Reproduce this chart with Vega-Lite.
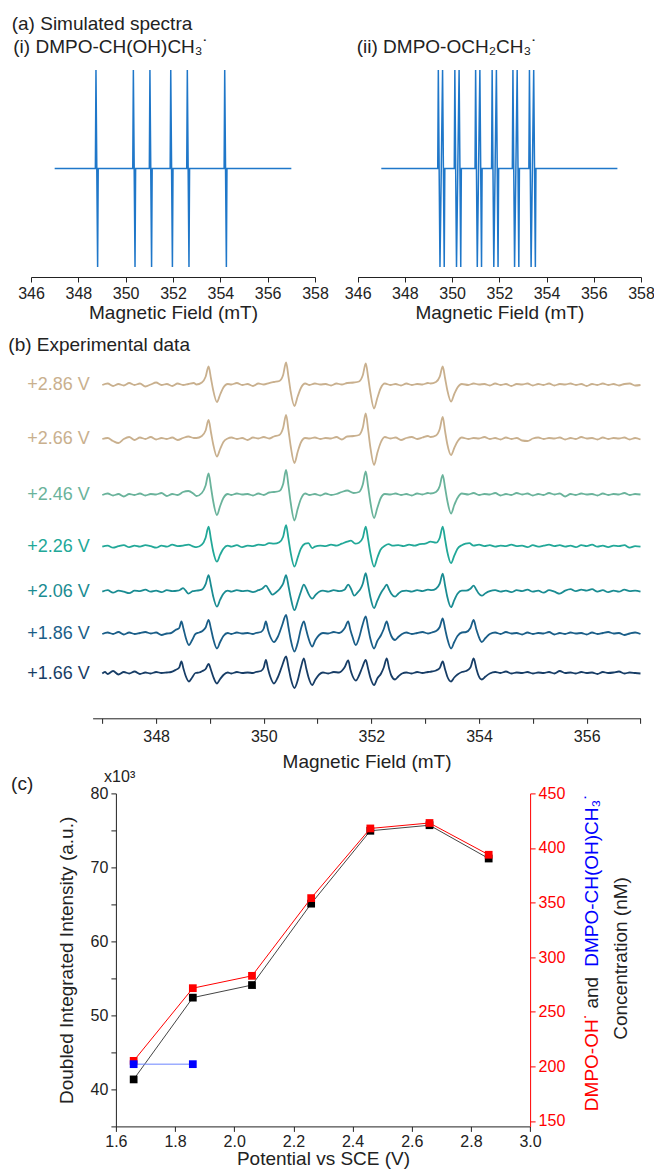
{
"$schema":"https://vega.github.io/schema/vega-lite/v6.json",
"padding":0,
"config":{"font":"Liberation Sans","view":{"stroke":null},
"axis":{"grid":false,"domainColor":"#222","tickColor":"#222","labelColor":"#222","titleColor":"#222","labelFontSize":16,"titleFontSize":19,"titleFontWeight":"normal","tickSize":5,"labelPadding":3,"labelFlush":false,"labelOverlap":false},
"text":{"font":"Liberation Sans"}},
"datasets":{
"sim1":[{"x":347,"y":0},{"x":348.72,"y":0},{"x":348.745,"y":1},{"x":348.815,"y":-1},{"x":348.84,"y":0},{"x":350.3,"y":0},{"x":350.325,"y":1},{"x":350.395,"y":-1},{"x":350.42,"y":0},{"x":351,"y":0},{"x":351.025,"y":1},{"x":351.095,"y":-1},{"x":351.12,"y":0},{"x":351.88,"y":0},{"x":351.905,"y":1},{"x":351.975,"y":-1},{"x":352,"y":0},{"x":352.58,"y":0},{"x":352.605,"y":1},{"x":352.675,"y":-1},{"x":352.7,"y":0},{"x":354.16,"y":0},{"x":354.185,"y":1},{"x":354.255,"y":-1},{"x":354.28,"y":0},{"x":357,"y":0}],
"sim2":[{"x":347,"y":0},{"x":349.39,"y":0},{"x":349.415,"y":1},{"x":349.485,"y":-1},{"x":349.54,"y":0},{"x":349.595,"y":1},{"x":349.665,"y":-1},{"x":349.69,"y":0},{"x":350.09,"y":0},{"x":350.115,"y":1},{"x":350.185,"y":-1},{"x":350.24,"y":0},{"x":350.295,"y":1},{"x":350.365,"y":-1},{"x":350.39,"y":0},{"x":350.97,"y":0},{"x":350.995,"y":1},{"x":351.065,"y":-1},{"x":351.12,"y":0},{"x":351.175,"y":1},{"x":351.245,"y":-1},{"x":351.27,"y":0},{"x":351.67,"y":0},{"x":351.695,"y":1},{"x":351.765,"y":-1},{"x":351.82,"y":0},{"x":351.875,"y":1},{"x":351.945,"y":-1},{"x":351.97,"y":0},{"x":352.55,"y":0},{"x":352.575,"y":1},{"x":352.645,"y":-1},{"x":352.7,"y":0},{"x":352.755,"y":1},{"x":352.825,"y":-1},{"x":352.85,"y":0},{"x":353.25,"y":0},{"x":353.275,"y":1},{"x":353.345,"y":-1},{"x":353.4,"y":0},{"x":353.455,"y":1},{"x":353.525,"y":-1},{"x":353.55,"y":0},{"x":357,"y":0}],
"t286":[{"x":347,"y":0},{"x":347.1,"y":1.5},{"x":347.2,"y":-1},{"x":347.3,"y":1},{"x":347.4,"y":-0.5},{"x":347.5,"y":2},{"x":347.6,"y":0},{"x":347.7,"y":1.5},{"x":347.8,"y":-1.5},{"x":347.9,"y":0.5},{"x":348,"y":2.5},{"x":348.1,"y":0},{"x":348.2,"y":1},{"x":348.3,"y":-1},{"x":348.4,"y":1.5},{"x":348.5,"y":0},{"x":348.6,"y":1},{"x":348.7,"y":2},{"x":348.75,"y":0.5},{"x":348.85,"y":2.5},{"x":348.92,"y":8.3},{"x":348.975,"y":18.5},{"x":349.02,"y":6.5},{"x":349.06,"y":-5},{"x":349.13,"y":-17},{"x":349.19,"y":-9.5},{"x":349.25,"y":-2.5},{"x":349.33,"y":1},{"x":349.4,"y":0.5},{"x":349.5,"y":2},{"x":349.6,"y":0},{"x":349.7,"y":1},{"x":349.8,"y":-1},{"x":349.9,"y":1.5},{"x":350,"y":0.5},{"x":350.1,"y":2},{"x":350.19,"y":3},{"x":350.29,"y":4},{"x":350.36,"y":10},{"x":350.415,"y":22.5},{"x":350.46,"y":8},{"x":350.5,"y":-6.5},{"x":350.57,"y":-21},{"x":350.63,"y":-11.5},{"x":350.69,"y":-3},{"x":350.77,"y":1.5},{"x":350.85,"y":0},{"x":350.95,"y":1.5},{"x":351.05,"y":0.5},{"x":351.15,"y":1},{"x":351.25,"y":-0.5},{"x":351.35,"y":1.5},{"x":351.45,"y":0.5},{"x":351.55,"y":2},{"x":351.67,"y":2.5},{"x":351.77,"y":3.5},{"x":351.84,"y":9.7},{"x":351.895,"y":21.5},{"x":351.94,"y":7.5},{"x":351.98,"y":-7},{"x":352.05,"y":-23.5},{"x":352.11,"y":-13},{"x":352.17,"y":-3.5},{"x":352.25,"y":1.5},{"x":352.35,"y":0},{"x":352.45,"y":1},{"x":352.55,"y":-0.5},{"x":352.65,"y":1.5},{"x":352.75,"y":0},{"x":352.85,"y":1},{"x":352.95,"y":0.5},{"x":353.05,"y":2},{"x":353.1,"y":1.5},{"x":353.2,"y":3},{"x":353.27,"y":8.3},{"x":353.325,"y":18.5},{"x":353.37,"y":6.5},{"x":353.41,"y":-5},{"x":353.48,"y":-16.5},{"x":353.54,"y":-9},{"x":353.6,"y":-2.5},{"x":353.68,"y":1},{"x":353.8,"y":0},{"x":353.9,"y":1.5},{"x":354,"y":0.5},{"x":354.1,"y":1},{"x":354.2,"y":-0.5},{"x":354.3,"y":1.5},{"x":354.4,"y":0},{"x":354.5,"y":1},{"x":354.6,"y":-1},{"x":354.7,"y":1},{"x":354.8,"y":0.5},{"x":354.9,"y":1.5},{"x":355,"y":-0.5},{"x":355.1,"y":1},{"x":355.2,"y":0},{"x":355.3,"y":1.5},{"x":355.4,"y":-0.5},{"x":355.5,"y":1},{"x":355.6,"y":0.5},{"x":355.7,"y":1.5},{"x":355.8,"y":0},{"x":355.9,"y":1},{"x":356,"y":-1},{"x":356.1,"y":1},{"x":356.2,"y":0},{"x":356.3,"y":1.5},{"x":356.4,"y":0},{"x":356.5,"y":1},{"x":356.6,"y":-0.5},{"x":356.7,"y":1},{"x":356.8,"y":1.5},{"x":356.9,"y":-0.5},{"x":357,"y":0}],
"t266":[{"x":347,"y":0},{"x":347.1,"y":1},{"x":347.2,"y":-2},{"x":347.3,"y":-4},{"x":347.4,"y":0},{"x":347.5,"y":2},{"x":347.6,"y":-1},{"x":347.7,"y":1.5},{"x":347.8,"y":0},{"x":347.9,"y":2},{"x":348,"y":-0.5},{"x":348.1,"y":1},{"x":348.2,"y":0},{"x":348.3,"y":1.5},{"x":348.4,"y":-1},{"x":348.5,"y":1},{"x":348.6,"y":2.5},{"x":348.7,"y":1},{"x":348.75,"y":1},{"x":348.85,"y":3},{"x":348.92,"y":8.5},{"x":348.975,"y":19},{"x":349.02,"y":6.5},{"x":349.06,"y":-5},{"x":349.13,"y":-17.5},{"x":349.19,"y":-10},{"x":349.25,"y":-3},{"x":349.33,"y":0.5},{"x":349.4,"y":1.5},{"x":349.5,"y":0},{"x":349.6,"y":1},{"x":349.7,"y":-1},{"x":349.8,"y":1.5},{"x":349.9,"y":0.5},{"x":350,"y":2},{"x":350.1,"y":0.5},{"x":350.19,"y":2.5},{"x":350.29,"y":4},{"x":350.36,"y":11},{"x":350.415,"y":24},{"x":350.46,"y":8.5},{"x":350.5,"y":-7},{"x":350.57,"y":-24},{"x":350.63,"y":-13},{"x":350.69,"y":-3.5},{"x":350.77,"y":1},{"x":350.85,"y":0.5},{"x":350.95,"y":1.5},{"x":351.05,"y":0},{"x":351.15,"y":1},{"x":351.25,"y":0.5},{"x":351.35,"y":2},{"x":351.45,"y":-0.5},{"x":351.55,"y":2.5},{"x":351.67,"y":3},{"x":351.77,"y":4},{"x":351.84,"y":11.5},{"x":351.895,"y":25.5},{"x":351.94,"y":9},{"x":351.98,"y":-8},{"x":352.05,"y":-26},{"x":352.11,"y":-14},{"x":352.17,"y":-4},{"x":352.25,"y":2},{"x":352.35,"y":0.5},{"x":352.45,"y":1.5},{"x":352.55,"y":-1},{"x":352.65,"y":1},{"x":352.75,"y":2},{"x":352.85,"y":0},{"x":352.95,"y":1.5},{"x":353.05,"y":3},{"x":353.1,"y":2},{"x":353.2,"y":3.5},{"x":353.27,"y":10},{"x":353.325,"y":22},{"x":353.37,"y":7.5},{"x":353.41,"y":-5},{"x":353.48,"y":-16},{"x":353.54,"y":-9},{"x":353.6,"y":-2.5},{"x":353.68,"y":1.5},{"x":353.8,"y":0},{"x":353.9,"y":1},{"x":354,"y":0.5},{"x":354.1,"y":2},{"x":354.2,"y":0},{"x":354.3,"y":1},{"x":354.4,"y":-0.5},{"x":354.5,"y":1.5},{"x":354.6,"y":0},{"x":354.7,"y":1},{"x":354.8,"y":-1.5},{"x":354.9,"y":-2},{"x":355,"y":0.5},{"x":355.1,"y":1.5},{"x":355.2,"y":0},{"x":355.3,"y":1},{"x":355.4,"y":0.5},{"x":355.5,"y":1.5},{"x":355.6,"y":-0.5},{"x":355.7,"y":1},{"x":355.8,"y":0},{"x":355.9,"y":2},{"x":356,"y":0.5},{"x":356.1,"y":1},{"x":356.2,"y":-0.5},{"x":356.3,"y":1.5},{"x":356.4,"y":0},{"x":356.5,"y":1},{"x":356.6,"y":0.5},{"x":356.7,"y":1.5},{"x":356.8,"y":-0.5},{"x":356.9,"y":1},{"x":357,"y":-0.5}],
"t246":[{"x":347,"y":0},{"x":347.1,"y":1.5},{"x":347.2,"y":-0.5},{"x":347.3,"y":1},{"x":347.4,"y":-1.5},{"x":347.5,"y":1},{"x":347.6,"y":0},{"x":347.7,"y":1.5},{"x":347.8,"y":-0.5},{"x":347.9,"y":1},{"x":348,"y":0.5},{"x":348.1,"y":2},{"x":348.2,"y":-1},{"x":348.3,"y":1},{"x":348.4,"y":0},{"x":348.5,"y":3},{"x":348.6,"y":4},{"x":348.7,"y":1},{"x":348.75,"y":-1},{"x":348.85,"y":2},{"x":348.92,"y":9.5},{"x":348.975,"y":21.5},{"x":349.02,"y":7.5},{"x":349.06,"y":-6},{"x":349.13,"y":-20},{"x":349.19,"y":-11},{"x":349.25,"y":-3},{"x":349.33,"y":1},{"x":349.4,"y":0},{"x":349.5,"y":1.5},{"x":349.6,"y":0.5},{"x":349.7,"y":1},{"x":349.8,"y":-0.5},{"x":349.9,"y":1.5},{"x":350,"y":0},{"x":350.1,"y":2.5},{"x":350.19,"y":3},{"x":350.29,"y":4},{"x":350.36,"y":11},{"x":350.415,"y":25},{"x":350.46,"y":9},{"x":350.5,"y":-7.5},{"x":350.57,"y":-25.5},{"x":350.63,"y":-14},{"x":350.69,"y":-4},{"x":350.77,"y":1.5},{"x":350.85,"y":0},{"x":350.95,"y":1},{"x":351.05,"y":-0.5},{"x":351.15,"y":1.5},{"x":351.25,"y":0},{"x":351.35,"y":1},{"x":351.45,"y":3},{"x":351.55,"y":4.5},{"x":351.67,"y":2},{"x":351.77,"y":3},{"x":351.84,"y":10.5},{"x":351.895,"y":23.5},{"x":351.94,"y":8},{"x":351.98,"y":-7},{"x":352.05,"y":-23},{"x":352.11,"y":-13},{"x":352.17,"y":-3.5},{"x":352.25,"y":1},{"x":352.35,"y":0.5},{"x":352.45,"y":1.5},{"x":352.55,"y":0},{"x":352.65,"y":1},{"x":352.75,"y":-0.5},{"x":352.85,"y":1.5},{"x":352.95,"y":0.5},{"x":353.05,"y":2},{"x":353.1,"y":1.5},{"x":353.2,"y":3},{"x":353.27,"y":9},{"x":353.325,"y":20},{"x":353.37,"y":7},{"x":353.41,"y":-5.5},{"x":353.48,"y":-18.5},{"x":353.54,"y":-10},{"x":353.6,"y":-3},{"x":353.68,"y":1.5},{"x":353.8,"y":0.5},{"x":353.9,"y":2},{"x":354,"y":0},{"x":354.1,"y":1},{"x":354.2,"y":0.5},{"x":354.3,"y":2},{"x":354.4,"y":-0.5},{"x":354.5,"y":1},{"x":354.6,"y":0},{"x":354.7,"y":2},{"x":354.8,"y":0.5},{"x":354.9,"y":1.5},{"x":355,"y":-0.5},{"x":355.1,"y":1},{"x":355.2,"y":0},{"x":355.3,"y":2},{"x":355.4,"y":0.5},{"x":355.5,"y":1.5},{"x":355.6,"y":-1.5},{"x":355.7,"y":1},{"x":355.8,"y":0},{"x":355.9,"y":1.5},{"x":356,"y":0.5},{"x":356.1,"y":1},{"x":356.2,"y":-0.5},{"x":356.3,"y":1.5},{"x":356.4,"y":0},{"x":356.5,"y":1},{"x":356.6,"y":0.5},{"x":356.7,"y":2},{"x":356.8,"y":0},{"x":356.9,"y":1},{"x":357,"y":0.5}],
"t226":[{"x":347,"y":0},{"x":347.1,"y":1},{"x":347.2,"y":-1},{"x":347.3,"y":0.5},{"x":347.4,"y":1.5},{"x":347.5,"y":-0.5},{"x":347.6,"y":1},{"x":347.7,"y":0},{"x":347.8,"y":1.5},{"x":347.9,"y":0.5},{"x":348,"y":-1},{"x":348.1,"y":1},{"x":348.2,"y":0},{"x":348.3,"y":2},{"x":348.4,"y":0.5},{"x":348.5,"y":1},{"x":348.6,"y":2},{"x":348.7,"y":0},{"x":348.75,"y":-0.5},{"x":348.85,"y":2},{"x":348.92,"y":9},{"x":348.975,"y":20},{"x":349.02,"y":7},{"x":349.06,"y":-4.5},{"x":349.13,"y":-15},{"x":349.19,"y":-8},{"x":349.25,"y":-2},{"x":349.33,"y":1},{"x":349.4,"y":0},{"x":349.5,"y":1.5},{"x":349.6,"y":-0.5},{"x":349.7,"y":1},{"x":349.8,"y":0.5},{"x":349.9,"y":2},{"x":350,"y":1.5},{"x":350.1,"y":3.5},{"x":350.19,"y":3},{"x":350.29,"y":4.5},{"x":350.36,"y":10},{"x":350.415,"y":21.5},{"x":350.46,"y":7.5},{"x":350.5,"y":-6},{"x":350.57,"y":-20},{"x":350.63,"y":-11},{"x":350.69,"y":-2},{"x":350.77,"y":3},{"x":350.83,"y":3.5},{"x":350.9,"y":-1.5},{"x":350.95,"y":0},{"x":351.05,"y":1},{"x":351.15,"y":0.5},{"x":351.25,"y":2},{"x":351.35,"y":1},{"x":351.45,"y":3},{"x":351.55,"y":5},{"x":351.62,"y":6},{"x":351.7,"y":3},{"x":351.77,"y":4},{"x":351.84,"y":9},{"x":351.895,"y":20},{"x":351.94,"y":7},{"x":351.98,"y":-6},{"x":352.05,"y":-20},{"x":352.11,"y":-11},{"x":352.17,"y":-3},{"x":352.25,"y":1},{"x":352.32,"y":2.5},{"x":352.4,"y":1},{"x":352.5,"y":1.5},{"x":352.6,"y":0.5},{"x":352.7,"y":2},{"x":352.8,"y":1},{"x":352.9,"y":2.5},{"x":353,"y":3},{"x":353.1,"y":5},{"x":353.2,"y":4},{"x":353.27,"y":9},{"x":353.325,"y":20},{"x":353.37,"y":7},{"x":353.41,"y":-5},{"x":353.48,"y":-16.5},{"x":353.54,"y":-9},{"x":353.6,"y":-2},{"x":353.68,"y":1.5},{"x":353.75,"y":3},{"x":353.82,"y":3.5},{"x":353.9,"y":1},{"x":354,"y":2},{"x":354.1,"y":0.5},{"x":354.2,"y":1.5},{"x":354.3,"y":0},{"x":354.4,"y":1},{"x":354.5,"y":0.5},{"x":354.6,"y":2},{"x":354.7,"y":0.5},{"x":354.8,"y":1},{"x":354.9,"y":-0.5},{"x":355,"y":1.5},{"x":355.1,"y":0},{"x":355.2,"y":1},{"x":355.3,"y":2},{"x":355.4,"y":0.5},{"x":355.5,"y":1.5},{"x":355.6,"y":0},{"x":355.7,"y":1},{"x":355.8,"y":-0.5},{"x":355.9,"y":1.5},{"x":356,"y":0.5},{"x":356.1,"y":2},{"x":356.2,"y":0},{"x":356.3,"y":1},{"x":356.4,"y":-0.5},{"x":356.5,"y":1},{"x":356.6,"y":0.5},{"x":356.7,"y":1.5},{"x":356.8,"y":-1},{"x":356.9,"y":0.5},{"x":357,"y":0}],
"t206":[{"x":347,"y":0},{"x":347.1,"y":1.5},{"x":347.2,"y":-1},{"x":347.3,"y":1},{"x":347.4,"y":0},{"x":347.5,"y":-1.5},{"x":347.6,"y":1},{"x":347.7,"y":0.5},{"x":347.8,"y":2},{"x":347.9,"y":0},{"x":348,"y":1},{"x":348.1,"y":-0.5},{"x":348.2,"y":1.5},{"x":348.3,"y":0.5},{"x":348.4,"y":1},{"x":348.45,"y":2},{"x":348.5,"y":3.5},{"x":348.55,"y":1},{"x":348.6,"y":-2},{"x":348.68,"y":0.5},{"x":348.75,"y":1},{"x":348.85,"y":2},{"x":348.92,"y":7.5},{"x":348.975,"y":16.5},{"x":349.02,"y":6},{"x":349.06,"y":-4.5},{"x":349.13,"y":-15},{"x":349.19,"y":-8},{"x":349.25,"y":-2},{"x":349.33,"y":1},{"x":349.4,"y":0},{"x":349.5,"y":1.5},{"x":349.6,"y":0.5},{"x":349.7,"y":1},{"x":349.8,"y":-0.5},{"x":349.9,"y":1.5},{"x":349.97,"y":3},{"x":350.04,"y":6},{"x":350.1,"y":1.5},{"x":350.16,"y":-3},{"x":350.22,"y":-1},{"x":350.3,"y":3},{"x":350.36,"y":8},{"x":350.415,"y":16.5},{"x":350.46,"y":5.5},{"x":350.5,"y":-5.5},{"x":350.57,"y":-18.5},{"x":350.63,"y":-10},{"x":350.69,"y":0},{"x":350.745,"y":7},{"x":350.79,"y":3},{"x":350.83,"y":-2},{"x":350.9,"y":-7},{"x":350.96,"y":-3.5},{"x":351.03,"y":0},{"x":351.1,"y":1},{"x":351.2,"y":0},{"x":351.3,"y":1.5},{"x":351.4,"y":0.5},{"x":351.5,"y":2},{"x":351.57,"y":7},{"x":351.62,"y":3},{"x":351.68,"y":-4},{"x":351.74,"y":-1},{"x":351.8,"y":3},{"x":351.84,"y":8},{"x":351.895,"y":18.5},{"x":351.94,"y":6.5},{"x":351.98,"y":-5},{"x":352.05,"y":-16.5},{"x":352.11,"y":-9},{"x":352.18,"y":-1},{"x":352.23,"y":3},{"x":352.285,"y":7},{"x":352.33,"y":2},{"x":352.37,"y":-2},{"x":352.44,"y":-5},{"x":352.5,"y":-2},{"x":352.57,"y":0.5},{"x":352.65,"y":1},{"x":352.75,"y":0},{"x":352.85,"y":1.5},{"x":352.95,"y":0.5},{"x":353.05,"y":2},{"x":353.12,"y":1.5},{"x":353.2,"y":3},{"x":353.27,"y":8},{"x":353.325,"y":18},{"x":353.37,"y":6},{"x":353.41,"y":-5},{"x":353.48,"y":-15.5},{"x":353.54,"y":-8.5},{"x":353.6,"y":-2},{"x":353.68,"y":1},{"x":353.76,"y":1},{"x":353.84,"y":3},{"x":353.9,"y":6},{"x":353.95,"y":2},{"x":353.99,"y":-1.5},{"x":354.05,"y":-4},{"x":354.12,"y":-1.5},{"x":354.2,"y":0.5},{"x":354.3,"y":1.5},{"x":354.4,"y":0},{"x":354.5,"y":1},{"x":354.6,"y":-0.5},{"x":354.7,"y":1.5},{"x":354.8,"y":0.5},{"x":354.9,"y":2},{"x":355,"y":0},{"x":355.1,"y":1},{"x":355.2,"y":-1},{"x":355.3,"y":1.5},{"x":355.4,"y":0},{"x":355.5,"y":-2},{"x":355.6,"y":1},{"x":355.7,"y":2.5},{"x":355.8,"y":0.5},{"x":355.9,"y":2},{"x":356,"y":1},{"x":356.1,"y":2.5},{"x":356.2,"y":0},{"x":356.3,"y":1.5},{"x":356.4,"y":-0.5},{"x":356.5,"y":1},{"x":356.6,"y":0},{"x":356.7,"y":2},{"x":356.8,"y":0.5},{"x":356.9,"y":1},{"x":357,"y":0}],
"t186":[{"x":347,"y":0},{"x":347.1,"y":1.5},{"x":347.2,"y":0},{"x":347.3,"y":2},{"x":347.4,"y":-0.5},{"x":347.5,"y":1.5},{"x":347.6,"y":0},{"x":347.7,"y":1},{"x":347.8,"y":2},{"x":347.9,"y":0.5},{"x":348,"y":1.5},{"x":348.1,"y":-1},{"x":348.2,"y":0.5},{"x":348.28,"y":1},{"x":348.36,"y":4},{"x":348.43,"y":6},{"x":348.47,"y":12.5},{"x":348.51,"y":5},{"x":348.55,"y":-3.5},{"x":348.61,"y":-11},{"x":348.67,"y":-6},{"x":348.73,"y":0},{"x":348.8,"y":1.5},{"x":348.86,"y":3},{"x":348.92,"y":6.5},{"x":348.975,"y":14},{"x":349.02,"y":5},{"x":349.06,"y":-4.5},{"x":349.13,"y":-14.5},{"x":349.19,"y":-8},{"x":349.25,"y":-2},{"x":349.33,"y":1},{"x":349.4,"y":0},{"x":349.5,"y":1.5},{"x":349.6,"y":0.5},{"x":349.7,"y":1},{"x":349.8,"y":0},{"x":349.85,"y":1},{"x":349.95,"y":2},{"x":350,"y":5.5},{"x":350.04,"y":12.5},{"x":350.08,"y":4},{"x":350.12,"y":-2.5},{"x":350.19,"y":-8},{"x":350.26,"y":-3},{"x":350.34,"y":8.5},{"x":350.415,"y":19},{"x":350.46,"y":6.5},{"x":350.5,"y":-5.5},{"x":350.57,"y":-17.5},{"x":350.63,"y":-9},{"x":350.69,"y":5},{"x":350.745,"y":12.5},{"x":350.79,"y":4},{"x":350.83,"y":-4},{"x":350.9,"y":-12.5},{"x":350.96,"y":-6},{"x":351.03,"y":-1},{"x":351.1,"y":1},{"x":351.2,"y":0.5},{"x":351.3,"y":2},{"x":351.4,"y":1},{"x":351.5,"y":5.5},{"x":351.57,"y":12.5},{"x":351.61,"y":4},{"x":351.65,"y":-3},{"x":351.71,"y":-11},{"x":351.77,"y":-4},{"x":351.83,"y":8},{"x":351.895,"y":17.5},{"x":351.94,"y":6},{"x":351.98,"y":-4.5},{"x":352.05,"y":-14.5},{"x":352.11,"y":-7},{"x":352.18,"y":-1},{"x":352.23,"y":5},{"x":352.285,"y":12.5},{"x":352.33,"y":4},{"x":352.37,"y":-2},{"x":352.44,"y":-6},{"x":352.5,"y":-3},{"x":352.57,"y":0},{"x":352.65,"y":1.5},{"x":352.75,"y":0},{"x":352.85,"y":1},{"x":352.95,"y":2},{"x":353.05,"y":0.5},{"x":353.12,"y":1.5},{"x":353.2,"y":3},{"x":353.27,"y":7},{"x":353.325,"y":15.5},{"x":353.37,"y":5},{"x":353.41,"y":-4.5},{"x":353.48,"y":-14.5},{"x":353.54,"y":-8},{"x":353.6,"y":-2},{"x":353.68,"y":1.5},{"x":353.76,"y":2},{"x":353.84,"y":6},{"x":353.9,"y":14},{"x":353.95,"y":4.5},{"x":353.99,"y":-2},{"x":354.05,"y":-8},{"x":354.12,"y":-4},{"x":354.2,"y":0},{"x":354.3,"y":1.5},{"x":354.4,"y":0},{"x":354.5,"y":2},{"x":354.6,"y":0.5},{"x":354.7,"y":1},{"x":354.8,"y":-0.5},{"x":354.9,"y":1.5},{"x":355,"y":0},{"x":355.1,"y":1},{"x":355.2,"y":0.5},{"x":355.3,"y":2},{"x":355.4,"y":-0.5},{"x":355.5,"y":1},{"x":355.6,"y":0},{"x":355.7,"y":1.5},{"x":355.8,"y":0.5},{"x":355.9,"y":1},{"x":356,"y":-0.5},{"x":356.1,"y":1.5},{"x":356.2,"y":0},{"x":356.3,"y":1},{"x":356.4,"y":2},{"x":356.5,"y":0.5},{"x":356.6,"y":1},{"x":356.7,"y":-1},{"x":356.8,"y":0.5},{"x":356.9,"y":1.5},{"x":357,"y":0}],
"t166":[{"x":347,"y":0},{"x":347.05,"y":1.5},{"x":347.1,"y":-0.5},{"x":347.2,"y":2.5},{"x":347.3,"y":-1},{"x":347.4,"y":1.5},{"x":347.5,"y":0},{"x":347.6,"y":2},{"x":347.7,"y":-0.5},{"x":347.8,"y":1},{"x":347.9,"y":0},{"x":348,"y":1.5},{"x":348.1,"y":0.5},{"x":348.2,"y":1},{"x":348.28,"y":1.5},{"x":348.36,"y":3.5},{"x":348.43,"y":6},{"x":348.47,"y":12},{"x":348.51,"y":4.5},{"x":348.55,"y":-2.5},{"x":348.61,"y":-8},{"x":348.67,"y":-4},{"x":348.73,"y":0.5},{"x":348.8,"y":1},{"x":348.86,"y":2.5},{"x":348.92,"y":4.5},{"x":348.975,"y":9.5},{"x":349.02,"y":3.5},{"x":349.06,"y":-3},{"x":349.13,"y":-10},{"x":349.19,"y":-5.5},{"x":349.25,"y":-1.5},{"x":349.33,"y":1},{"x":349.4,"y":0},{"x":349.5,"y":1.5},{"x":349.6,"y":0.5},{"x":349.7,"y":1},{"x":349.8,"y":0.5},{"x":349.85,"y":1.5},{"x":349.95,"y":2.5},{"x":350,"y":6},{"x":350.04,"y":13.5},{"x":350.08,"y":4.5},{"x":350.12,"y":-3},{"x":350.19,"y":-10},{"x":350.26,"y":-4},{"x":350.34,"y":7.5},{"x":350.415,"y":17},{"x":350.46,"y":6},{"x":350.5,"y":-4.5},{"x":350.57,"y":-14.5},{"x":350.63,"y":-7},{"x":350.69,"y":6},{"x":350.745,"y":15},{"x":350.79,"y":5},{"x":350.83,"y":-3.5},{"x":350.9,"y":-11.5},{"x":350.96,"y":-6},{"x":351.03,"y":-1},{"x":351.1,"y":1},{"x":351.2,"y":0},{"x":351.3,"y":1.5},{"x":351.4,"y":1},{"x":351.5,"y":6},{"x":351.57,"y":13},{"x":351.61,"y":4},{"x":351.65,"y":-2.5},{"x":351.71,"y":-7},{"x":351.77,"y":-2},{"x":351.83,"y":6},{"x":351.895,"y":13.5},{"x":351.94,"y":4.5},{"x":351.98,"y":-4},{"x":352.05,"y":-11.5},{"x":352.11,"y":-5},{"x":352.18,"y":0},{"x":352.23,"y":6},{"x":352.285,"y":15},{"x":352.33,"y":5},{"x":352.37,"y":-2},{"x":352.44,"y":-6},{"x":352.5,"y":-3},{"x":352.57,"y":0},{"x":352.65,"y":1},{"x":352.75,"y":0},{"x":352.85,"y":1.5},{"x":352.95,"y":0.5},{"x":353.05,"y":1.5},{"x":353.12,"y":2},{"x":353.2,"y":3},{"x":353.27,"y":5.5},{"x":353.325,"y":12},{"x":353.37,"y":4},{"x":353.41,"y":-3},{"x":353.48,"y":-8},{"x":353.54,"y":-4},{"x":353.6,"y":-1},{"x":353.68,"y":1.5},{"x":353.76,"y":2.5},{"x":353.84,"y":6},{"x":353.9,"y":15},{"x":353.95,"y":5},{"x":353.99,"y":-2},{"x":354.05,"y":-6},{"x":354.12,"y":-3},{"x":354.2,"y":0},{"x":354.3,"y":1.5},{"x":354.4,"y":0.5},{"x":354.5,"y":2},{"x":354.6,"y":0},{"x":354.7,"y":1},{"x":354.8,"y":0.5},{"x":354.9,"y":1.5},{"x":355,"y":0},{"x":355.1,"y":1},{"x":355.2,"y":0.5},{"x":355.3,"y":1.5},{"x":355.4,"y":0},{"x":355.5,"y":2.5},{"x":355.6,"y":0.5},{"x":355.7,"y":1},{"x":355.8,"y":0},{"x":355.9,"y":1.5},{"x":356,"y":0.5},{"x":356.1,"y":1},{"x":356.2,"y":-0.5},{"x":356.3,"y":1.5},{"x":356.4,"y":0.5},{"x":356.5,"y":1},{"x":356.6,"y":2},{"x":356.7,"y":0},{"x":356.8,"y":1},{"x":356.9,"y":0.5},{"x":357,"y":0}],
"conc":[{"p":1.66,"I":41.35,"c":205},{"p":1.86,"I":52.4,"c":271.6},{"p":2.06,"I":54.1,"c":282.9},{"p":2.26,"I":65.1,"c":354.1},{"p":2.46,"I":74.95,"c":417.9},{"p":2.66,"I":75.7,"c":422.9},{"p":2.86,"I":71.2,"c":393.8}],
"blue":[{"p":1.66,"c":202},{"p":1.86,"c":202}],
"one":[{}]
},
"vconcat":[
{"width":645.8,"height":277,
 "layer":[
  {"layer":[
   {"data":{"name":"sim1"},"mark":{"type":"line","color":"#1f77c9","strokeWidth":1.5},
    "encoding":{"x":{"field":"x","type":"quantitative","scale":{"domain":[346,358],"range":[31,315],"nice":false,"zero":false},"axis":{"orient":"bottom","values":[346,348,350,352,354,356,358],"format":"d","title":"Magnetic Field (mT)","titlePadding":2}},
     "y":{"field":"y","type":"quantitative","scale":{"domain":[-1.1015,1.7107],"nice":false,"zero":false},"axis":null}}},
   {"data":{"name":"one"},"mark":{"type":"text","text":"(a) Simulated spectra","align":"left","baseline":"middle","fontSize":19,"color":"#222"},
    "encoding":{"x":{"datum":345.185,"type":"quantitative","scale":{"domain":[346,358],"range":[31,315]}},"y":{"datum":1.467,"type":"quantitative","scale":{"domain":[-1.1015,1.7107]},"axis":null}}},
   {"data":{"name":"one"},"mark":{"type":"text","text":"(i) DMPO-CH(OH)CH₃˙","align":"left","baseline":"middle","fontSize":19,"color":"#222"},
    "encoding":{"x":{"datum":345.252,"type":"quantitative","scale":{"domain":[346,358],"range":[31,315]}},"y":{"datum":1.2335,"type":"quantitative","scale":{"domain":[-1.1015,1.7107]},"axis":null}}}
  ]},
  {"layer":[
   {"data":{"name":"sim2"},"mark":{"type":"line","color":"#1f77c9","strokeWidth":1.5},
    "encoding":{"x":{"field":"x","type":"quantitative","scale":{"domain":[346,358],"range":[357.7,641],"nice":false,"zero":false},"axis":{"orient":"bottom","values":[346,348,350,352,354,356,358],"format":"d","title":"Magnetic Field (mT)","titlePadding":2}},
     "y":{"field":"y","type":"quantitative","scale":{"domain":[-1.1015,1.7107],"nice":false,"zero":false},"axis":null}}},
   {"data":{"name":"one"},"mark":{"type":"text","text":"(ii) DMPO-OCH₂CH₃˙","align":"left","baseline":"middle","fontSize":19,"color":"#222"},
    "encoding":{"x":{"datum":345.958,"type":"quantitative","scale":{"domain":[346,358],"range":[357.7,641]}},"y":{"datum":1.2335,"type":"quantitative","scale":{"domain":[-1.1015,1.7107]},"axis":null}}}
  ]}
 ],
 "resolve":{"scale":{"x":"independent"}}
},
{"vconcat":[
 {"width":645.8,"height":418.3,
  "layer":[
   {"layer":[
    {"data":{"name":"t286"},"mark":{"type":"line","color":"#c9b08e","strokeWidth":1.8,"interpolate":"monotone"},
     "encoding":{"x":{"field":"x","type":"quantitative","scale":{"domain":[346.82,357],"range":[92.5,640.4],"nice":false,"zero":false},"axis":{"values":[347,348,349,350,351,352,353,354,355,356,357],"format":"d","labelExpr":"datum.value % 2 == 0 ? datum.label : ''","title":"Magnetic Field (mT)","labelPadding":5,"titlePadding":8}},
      "y":{"field":"y","type":"quantitative","scale":{"domain":[-333.3,85],"nice":false,"zero":false},"axis":null}}},
    {"data":{"name":"one"},"mark":{"type":"text","text":"+2.86 V","align":"right","baseline":"middle","fontSize":18,"color":"#c9b08e"},
     "encoding":{"x":{"datum":346.766,"type":"quantitative","scale":{"domain":[346.82,357],"range":[92.5,640.4]}},"y":{"datum":0,"type":"quantitative","scale":{"domain":[-333.3,85]},"axis":null}}},
    {"data":{"name":"one"},"mark":{"type":"text","text":"(b) Experimental data","align":"left","baseline":"middle","fontSize":19,"color":"#222"},
     "encoding":{"x":{"datum":345.254,"type":"quantitative","scale":{"domain":[346.82,357],"range":[92.5,640.4]}},"y":{"datum":40,"type":"quantitative","scale":{"domain":[-333.3,85]},"axis":null}}}
   ]},
   {"layer":[
    {"data":{"name":"t266"},"mark":{"type":"line","color":"#c9b08e","strokeWidth":1.8,"interpolate":"monotone"},
     "encoding":{"x":{"field":"x","type":"quantitative","scale":{"domain":[346.82,357],"range":[92.5,640.4],"nice":false,"zero":false}},
      "y":{"field":"y","type":"quantitative","scale":{"domain":[-279.3,139],"nice":false,"zero":false},"axis":null}}},
    {"data":{"name":"one"},"mark":{"type":"text","text":"+2.66 V","align":"right","baseline":"middle","fontSize":18,"color":"#c9b08e"},
     "encoding":{"x":{"datum":346.766,"type":"quantitative","scale":{"domain":[346.82,357],"range":[92.5,640.4]}},"y":{"datum":0,"type":"quantitative","scale":{"domain":[-279.3,139]},"axis":null}}}
   ]},
   {"layer":[
    {"data":{"name":"t246"},"mark":{"type":"line","color":"#6ab39b","strokeWidth":1.8,"interpolate":"monotone"},
     "encoding":{"x":{"field":"x","type":"quantitative","scale":{"domain":[346.82,357],"range":[92.5,640.4],"nice":false,"zero":false}},
      "y":{"field":"y","type":"quantitative","scale":{"domain":[-223.3,195],"nice":false,"zero":false},"axis":null}}},
    {"data":{"name":"one"},"mark":{"type":"text","text":"+2.46 V","align":"right","baseline":"middle","fontSize":18,"color":"#6ab39b"},
     "encoding":{"x":{"datum":346.766,"type":"quantitative","scale":{"domain":[346.82,357],"range":[92.5,640.4]}},"y":{"datum":0,"type":"quantitative","scale":{"domain":[-223.3,195]},"axis":null}}}
   ]},
   {"layer":[
    {"data":{"name":"t226"},"mark":{"type":"line","color":"#22a898","strokeWidth":1.8,"interpolate":"monotone"},
     "encoding":{"x":{"field":"x","type":"quantitative","scale":{"domain":[346.82,357],"range":[92.5,640.4],"nice":false,"zero":false}},
      "y":{"field":"y","type":"quantitative","scale":{"domain":[-171.6,246.7],"nice":false,"zero":false},"axis":null}}},
    {"data":{"name":"one"},"mark":{"type":"text","text":"+2.26 V","align":"right","baseline":"middle","fontSize":18,"color":"#22a898"},
     "encoding":{"x":{"datum":346.766,"type":"quantitative","scale":{"domain":[346.82,357],"range":[92.5,640.4]}},"y":{"datum":0,"type":"quantitative","scale":{"domain":[-171.6,246.7]},"axis":null}}}
   ]},
   {"layer":[
    {"data":{"name":"t206"},"mark":{"type":"line","color":"#1a8c92","strokeWidth":1.8,"interpolate":"monotone"},
     "encoding":{"x":{"field":"x","type":"quantitative","scale":{"domain":[346.82,357],"range":[92.5,640.4],"nice":false,"zero":false}},
      "y":{"field":"y","type":"quantitative","scale":{"domain":[-126.6,291.7],"nice":false,"zero":false},"axis":null}}},
    {"data":{"name":"one"},"mark":{"type":"text","text":"+2.06 V","align":"right","baseline":"middle","fontSize":18,"color":"#1a8c92"},
     "encoding":{"x":{"datum":346.766,"type":"quantitative","scale":{"domain":[346.82,357],"range":[92.5,640.4]}},"y":{"datum":0,"type":"quantitative","scale":{"domain":[-126.6,291.7]},"axis":null}}}
   ]},
   {"layer":[
    {"data":{"name":"t186"},"mark":{"type":"line","color":"#1a5e88","strokeWidth":1.8,"interpolate":"monotone"},
     "encoding":{"x":{"field":"x","type":"quantitative","scale":{"domain":[346.82,357],"range":[92.5,640.4],"nice":false,"zero":false}},
      "y":{"field":"y","type":"quantitative","scale":{"domain":[-84.3,334],"nice":false,"zero":false},"axis":null}}},
    {"data":{"name":"one"},"mark":{"type":"text","text":"+1.86 V","align":"right","baseline":"middle","fontSize":18,"color":"#1a5e88"},
     "encoding":{"x":{"datum":346.766,"type":"quantitative","scale":{"domain":[346.82,357],"range":[92.5,640.4]}},"y":{"datum":0,"type":"quantitative","scale":{"domain":[-84.3,334]},"axis":null}}}
   ]},
   {"layer":[
    {"data":{"name":"t166"},"mark":{"type":"line","color":"#173d66","strokeWidth":1.8,"interpolate":"monotone"},
     "encoding":{"x":{"field":"x","type":"quantitative","scale":{"domain":[346.82,357],"range":[92.5,640.4],"nice":false,"zero":false}},
      "y":{"field":"y","type":"quantitative","scale":{"domain":[-44.8,373.5],"nice":false,"zero":false},"axis":null}}},
    {"data":{"name":"one"},"mark":{"type":"text","text":"+1.66 V","align":"right","baseline":"middle","fontSize":18,"color":"#173d66"},
     "encoding":{"x":{"datum":346.766,"type":"quantitative","scale":{"domain":[346.82,357],"range":[92.5,640.4]}},"y":{"datum":0,"type":"quantitative","scale":{"domain":[-44.8,373.5]},"axis":null}}}
   ]}
  ],
  "resolve":{"scale":{"y":"independent"}}
 },
 {"width":414.2,"height":333,
  "layer":[
   {"data":{"name":"conc"},"mark":{"type":"line","color":"#444","strokeWidth":1,"point":{"shape":"square","size":60,"filled":true,"color":"#000"}},
    "encoding":{"x":{"field":"p","type":"quantitative","scale":{"domain":[1.6,3.0],"nice":false,"zero":false},"axis":{"values":[1.6,1.7,1.8,1.9,2.0,2.1,2.2,2.3,2.4,2.5,2.6,2.7,2.8,2.9,3.0],"format":".1f","labelExpr":"round(datum.value*10) % 2 == 0 ? datum.label : ''","title":"Potential vs SCE (V)","labelPadding":2,"titlePadding":0}},
     "y":{"field":"I","type":"quantitative","scale":{"domain":[35,80],"nice":false,"zero":false},"axis":{"orient":"left","values":[35,40,45,50,55,60,65,70,75,80],"labelExpr":"datum.value % 10 == 0 ? datum.label : ''","title":"Doubled Integrated Intensity (a.u.)","titlePadding":14}}}},
   {"data":{"name":"conc"},"mark":{"type":"line","color":"#ff0000","strokeWidth":1,"point":{"shape":"square","size":60,"filled":true,"color":"#ff0000"}},
    "encoding":{"x":{"field":"p","type":"quantitative","scale":{"domain":[1.6,3.0],"nice":false,"zero":false}},
     "y":{"field":"c","type":"quantitative","scale":{"domain":[145,450],"nice":false,"zero":false},"axis":{"orient":"right","values":[150,200,250,300,350,400,450],"title":null,"domainColor":"#ff0000","tickColor":"#ff0000","labelColor":"#ff0000"}}}},
   {"data":{"name":"blue"},"mark":{"type":"line","color":"#6b83ff","strokeWidth":1,"point":{"shape":"square","size":60,"filled":true,"color":"#0000ff"}},
    "encoding":{"x":{"field":"p","type":"quantitative","scale":{"domain":[1.6,3.0],"nice":false,"zero":false}},
     "y":{"field":"c","type":"quantitative","scale":{"domain":[145,450],"nice":false,"zero":false},"axis":null}}},
   {"data":{"name":"one"},"mark":{"type":"text","text":"(c)","align":"left","baseline":"middle","fontSize":19,"color":"#222"},
    "encoding":{"x":{"datum":1.2458,"type":"quantitative","scale":{"domain":[1.6,3.0]}},"y":{"datum":81.31,"type":"quantitative","scale":{"domain":[35,80]},"axis":null}}},
   {"data":{"name":"one"},"mark":{"type":"text","text":"x10³","align":"left","baseline":"middle","fontSize":16,"color":"#222"},
    "encoding":{"x":{"datum":1.5601,"type":"quantitative","scale":{"domain":[1.6,3.0]}},"y":{"datum":82.26,"type":"quantitative","scale":{"domain":[35,80]},"axis":null}}},
   {"data":{"name":"one"},"mark":{"type":"text","text":"DMPO-OH˙","align":"left","baseline":"middle","angle":270,"fontSize":19,"color":"#ff0000"},
    "encoding":{"x":{"datum":3.2085,"type":"quantitative","scale":{"domain":[1.6,3.0]}},"y":{"datum":37.06,"type":"quantitative","scale":{"domain":[35,80]},"axis":null}}},
   {"data":{"name":"one"},"mark":{"type":"text","text":"and","align":"center","baseline":"middle","angle":270,"fontSize":19,"color":"#222"},
    "encoding":{"x":{"datum":3.2085,"type":"quantitative","scale":{"domain":[1.6,3.0]}},"y":{"datum":53.06,"type":"quantitative","scale":{"domain":[35,80]},"axis":null}}},
   {"data":{"name":"one"},"mark":{"type":"text","text":"DMPO-CH(OH)CH₃˙","align":"right","baseline":"middle","angle":270,"fontSize":19,"color":"#0000ff"},
    "encoding":{"x":{"datum":3.2085,"type":"quantitative","scale":{"domain":[1.6,3.0]}},"y":{"datum":80,"type":"quantitative","scale":{"domain":[35,80]},"axis":null}}},
   {"data":{"name":"one"},"mark":{"type":"text","text":"Concentration (nM)","align":"center","baseline":"middle","angle":270,"fontSize":19,"color":"#222"},
    "encoding":{"x":{"datum":3.3069,"type":"quantitative","scale":{"domain":[1.6,3.0]}},"y":{"datum":57.7,"type":"quantitative","scale":{"domain":[35,80]},"axis":null}}}
  ],
  "resolve":{"scale":{"y":"independent"}}
 }
 ],
 "spacing":74.4,"bounds":"flush","center":true
}
],
"spacing":23,"bounds":"flush"
}
